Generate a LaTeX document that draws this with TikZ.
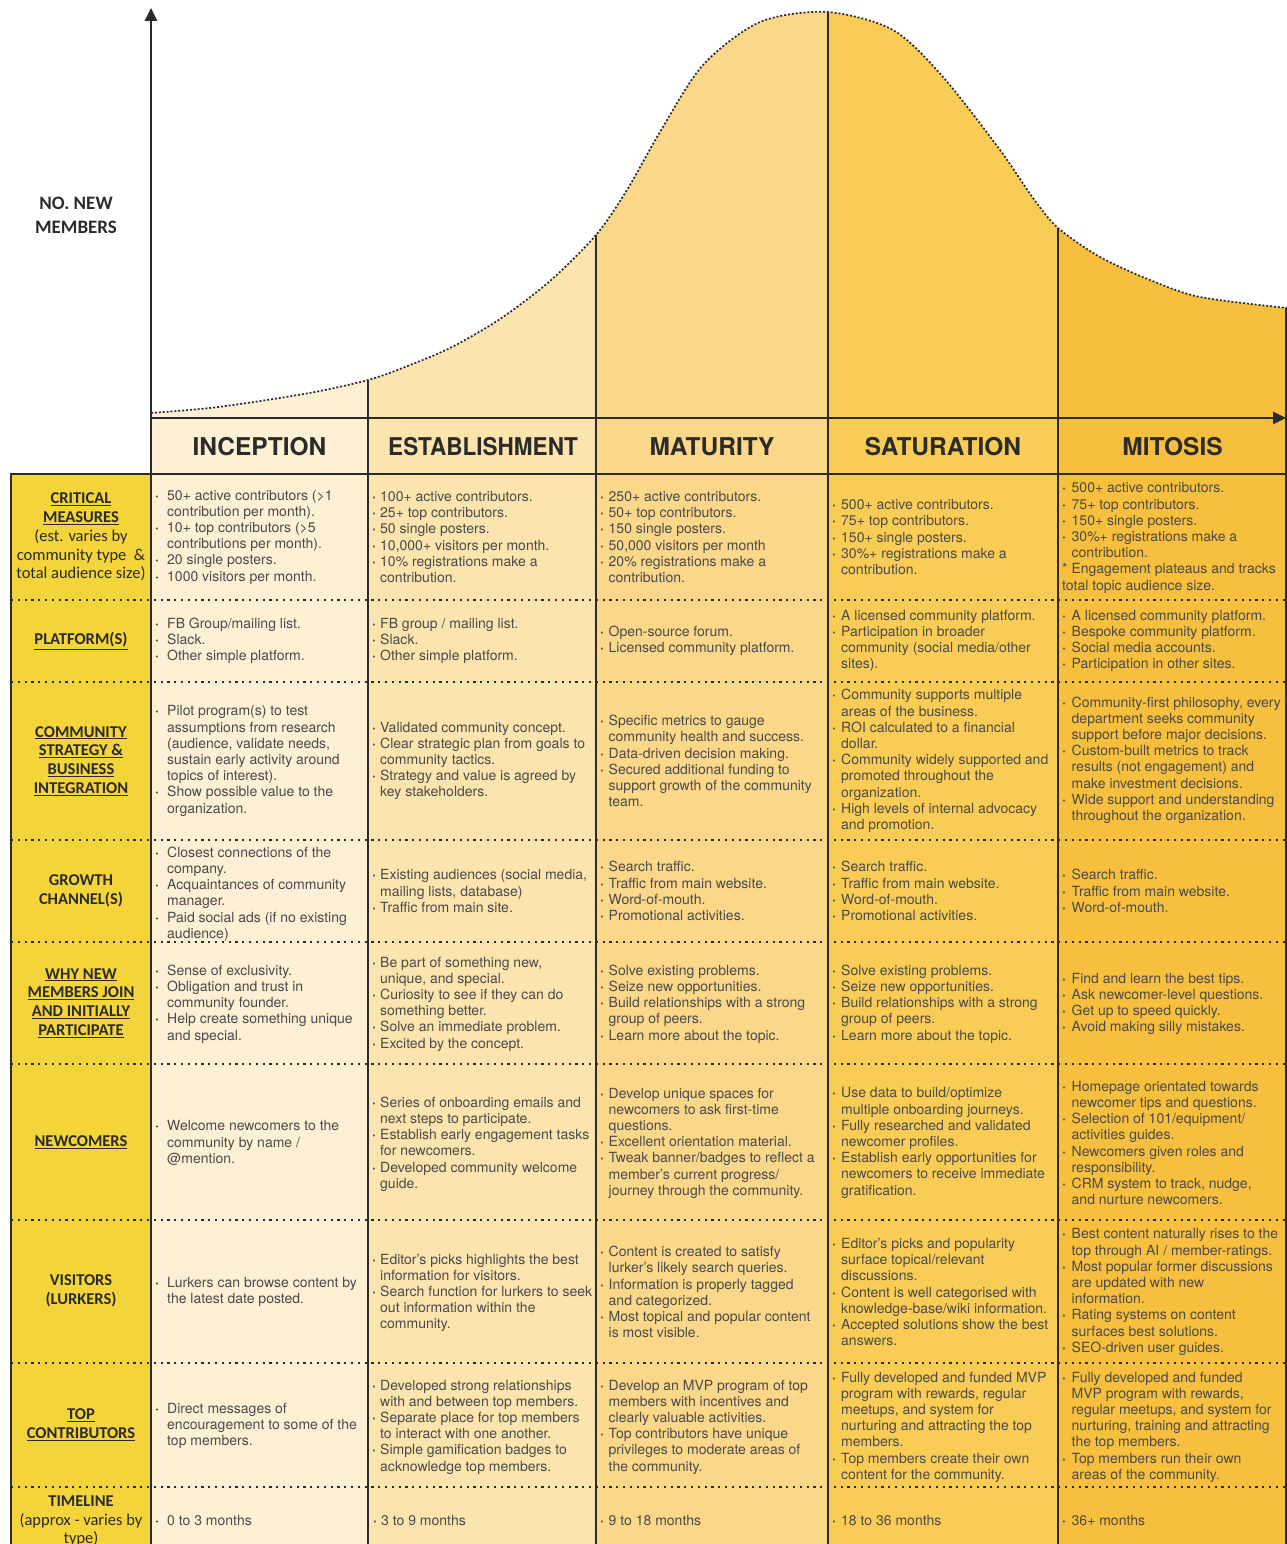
\documentclass[tikz,border=0pt]{standalone}
\usepackage{fontspec}
\setmainfont{TeX Gyre Heros}
\newfontfamily\carlito{Carlito}
\usetikzlibrary{arrows.meta}

\definecolor{cinc}{HTML}{FEF0D5}
\definecolor{cest}{HTML}{FCE4AE}
\definecolor{cmat}{HTML}{FAD789}
\definecolor{csat}{HTML}{F9CC55}
\definecolor{cmit}{HTML}{F6BF3E}
\definecolor{clab}{HTML}{F3D43B}
\definecolor{lnk}{HTML}{2B2B2B}
\definecolor{txt}{HTML}{4A4A4A}

\newlength{\bulw}
\newcommand{\bt}{\makebox[\bulw][l]{\textbf{·}}}
\newcommand{\hs}{\hspace*{\bulw}}
\newcommand{\lbu}[1]{\underline{\textbf{#1}}}

\tikzset{
  cell/.style={anchor=west, inner sep=0pt, align=left, text=txt,
    font=\fontsize{14}{16.2}\selectfont},
  incc/.style={cell, execute at begin node={\global\bulw=12pt}},
  estc/.style={cell, execute at begin node={\global\bulw=8pt}},
  matc/.style={cell, execute at begin node={\global\bulw=8.5pt}},
  satc/.style={cell, execute at begin node={\global\bulw=9pt}},
  mitc/.style={cell, execute at begin node={\global\bulw=9.5pt}},
  lab/.style={inner sep=0pt, align=center, text=lnk,
    font=\carlito\fontsize{16.5}{18.8}\selectfont},
  stage/.style={inner sep=0pt, text=lnk, font=\bfseries\fontsize{24.5}{28}\selectfont},
  axis/.style={lnk, line width=2.6pt, -{Triangle[length=13pt,width=12pt]}},
  rule/.style={lnk, line width=2.4pt},
  sep/.style={lnk, line width=1.8pt},
  dots/.style={lnk, line width=2.4pt, dash pattern=on 2.2pt off 4.6pt},
  curve/.style={lnk, line width=1.7pt, dash pattern=on 2pt off 1.9pt}
}

\begin{document}
\begin{tikzpicture}[x=1pt, y=-1pt]
\useasboundingbox (0,0) rectangle (1287,1544);
%
\coordinate (ytop) at (151,8);
\coordinate (ybot) at (151,1544);
\coordinate (origin) at (151,418);
\coordinate (xend) at (1286,418);
%
% stage columns
\fill[cinc] (151,0) rectangle (368,1544);
\fill[cest] (368,0) rectangle (596,1544);
\fill[cmat] (596,0) rectangle (828,1544);
\fill[csat] (828,0) rectangle (1058,1544);
\fill[cmit] (1058,0) rectangle (1287,1544);
\fill[clab] (11,474) rectangle (151,1544);
%
\draw[sep] (368,0) -- (368,1544);
\draw[sep] (596,0) -- (596,1544);
\draw[sep] (828,0) -- (828,1544);
\draw[sep] (1058,0) -- (1058,1544);
\draw[rule] (1285.8,300) -- (1285.8,1544);
%
% curve of new members
\fill[white] (151,0) -- (151,413) -- plot[smooth, tension=0.5] coordinates {(151,413) (210,408) (267,400) (320,391) (368,380) (400,369) (450,348) (500,319) (550,281) (596,235) (627,190) (660,132) (703,65) (760,22) (827,12) (893,30) (943,77) (1000,150) (1033,198) (1058,228) (1100,257) (1150,280) (1200,297) (1287,308)} -- (1288,308) -- (1288,0) -- cycle;
\draw[curve] plot[smooth, tension=0.5] coordinates {(151,413) (210,408) (267,400) (320,391) (368,380) (400,369) (450,348) (500,319) (550,281) (596,235) (627,190) (660,132) (703,65) (760,22) (827,12) (893,30) (943,77) (1000,150) (1033,198) (1058,228) (1100,257) (1150,280) (1200,297) (1287,308)};
%
% axes and frame
\draw[axis] (ybot) -- (ytop);
\draw[axis] (origin) -- (xend);
\draw[rule] (9.8,474) -- (1287,474);
\draw[rule] (11,473) -- (11,1544);
%
\draw[dots] (11,600) -- (1287,600);
\draw[dots] (11,682) -- (1287,682);
\draw[dots] (11,840) -- (1287,840);
\draw[dots] (11,942) -- (1287,942);
\draw[dots] (11,1064) -- (1287,1064);
\draw[dots] (11,1220) -- (1287,1220);
\draw[dots] (11,1363) -- (1287,1363);
\draw[dots] (11,1487) -- (1287,1487);
%
\node[lab, font=\carlito\bfseries\fontsize{19}{24}\selectfont] (ylab) at (76,215) {NO. NEW\\MEMBERS};
%
\node[stage] (inc) at (259.5,447) {INCEPTION};
\node[stage] (est) at (483,447) {\scalebox{0.92}[1]{ESTABLISHMENT}};
\node[stage] (mat) at (712,447) {MATURITY};
\node[stage] (sat) at (943,447) {SATURATION};
\node[stage] (mit) at (1172.5,447) {MITOSIS};
%
% row labels
\node[lab] (l-crit) at (81,537) {\lbu{CRITICAL}\\\lbu{MEASURES}\\(est. varies by\\community type \ \&\\total audience size)};
\node[lab] (l-plat) at (81,641) {\lbu{PLATFORM(S)}};
\node[lab] (l-strat) at (81,761) {\lbu{COMMUNITY}\\\lbu{STRATEGY \&}\\\lbu{BUSINESS}\\\lbu{INTEGRATION}};
\node[lab] (l-grow) at (81,891) {\textbf{GROWTH}\\\textbf{CHANNEL(S)}};
\node[lab] (l-why) at (81,1003) {\lbu{WHY NEW}\\\lbu{MEMBERS JOIN}\\\lbu{AND INITIALLY}\\\lbu{PARTICIPATE}};
\node[lab] (l-new) at (81,1142) {\lbu{NEWCOMERS}};
\node[lab] (l-vis) at (81,1291) {\textbf{VISITORS}\\\textbf{(LURKERS)}};
\node[lab] (l-top) at (81,1425) {\lbu{TOP}\\\lbu{CONTRIBUTORS}};
\node[lab] (l-time) at (81,1521) {\textbf{TIMELINE}\\(approx - varies by\\type)};
%
% critical measures
\node[incc] (inc-crit) at (155,537) {\bt 50+ active contributors (>1\\\hs contribution per month).\\\bt 10+ top contributors (>5\\\hs contributions per month).\\\bt 20 single posters.\\\bt 1000 visitors per month.};
\node[estc] (est-crit) at (372,537) {\bt 100+ active contributors.\\\bt 25+ top contributors.\\\bt 50 single posters.\\\bt 10,000+ visitors per month.\\\bt 10\% registrations make a\\\hs contribution.};
\node[matc] (mat-crit) at (600,537) {\bt 250+ active contributors.\\\bt 50+ top contributors.\\\bt 150 single posters.\\\bt 50,000 visitors per month\\\bt 20\% registrations make a\\\hs contribution.};
\node[satc] (sat-crit) at (832,537) {\bt 500+ active contributors.\\\bt 75+ top contributors.\\\bt 150+ single posters.\\\bt 30\%+ registrations make a\\\hs contribution.};
\node[mitc] (mit-crit) at (1062,538) {\bt 500+ active contributors.\\\bt 75+ top contributors.\\\bt 150+ single posters.\\\bt 30\%+ registrations make a\\\hs contribution.\\* Engagement plateaus and tracks\\total topic audience size.};
%
% platform
\node[incc] (inc-plat) at (155,641) {\bt FB Group/mailing list.\\\bt Slack.\\\bt Other simple platform.};
\node[estc] (est-plat) at (372,641) {\bt FB group / mailing list.\\\bt Slack.\\\bt Other simple platform.};
\node[matc] (mat-plat) at (600,641) {\bt Open-source forum.\\\bt Licensed community platform.};
\node[satc] (sat-plat) at (832,641) {\bt A licensed community platform.\\\bt Participation in broader\\\hs community (social media/other\\\hs sites).};
\node[mitc] (mit-plat) at (1062,641) {\bt A licensed community platform.\\\bt Bespoke community platform.\\\bt Social media accounts.\\\bt Participation in other sites.};
%
% strategy
\node[incc] (inc-strat) at (155,761) {\bt Pilot program(s) to test\\\hs assumptions from research\\\hs (audience, validate needs,\\\hs sustain early activity around\\\hs topics of interest).\\\bt Show possible value to the\\\hs organization.};
\node[estc] (est-strat) at (372,761) {\bt Validated community concept.\\\bt Clear strategic plan from goals to\\\hs community tactics.\\\bt Strategy and value is agreed by\\\hs key stakeholders.};
\node[matc] (mat-strat) at (600,761) {\bt Specific metrics to gauge\\\hs community health and success.\\\bt Data-driven decision making.\\\bt Secured additional funding to\\\hs support growth of the community\\\hs team.};
\node[satc] (sat-strat) at (832,761) {\bt Community supports multiple\\\hs areas of the business.\\\bt ROI calculated to a financial\\\hs dollar.\\\bt Community widely supported and\\\hs promoted throughout the\\\hs organization.\\\bt High levels of internal advocacy\\\hs and promotion.};
\node[mitc] (mit-strat) at (1062,760) {\bt Community-first philosophy, every\\\hs department seeks community\\\hs support before major decisions.\\\bt Custom-built metrics to track\\\hs results (not engagement) and\\\hs make investment decisions.\\\bt Wide support and understanding\\\hs throughout the organization.};
%
% growth channels
\node[incc] (inc-grow) at (155,894) {\bt Closest connections of the\\\hs company.\\\bt Acquaintances of community\\\hs manager.\\\bt Paid social ads (if no existing\\\hs audience)};
\node[estc] (est-grow) at (372,891) {\bt Existing audiences (social media,\\\hs mailing lists, database)\\\bt Traffic from main site.};
\node[matc] (mat-grow) at (600,891) {\bt Search traffic.\\\bt Traffic from main website.\\\bt Word-of-mouth.\\\bt Promotional activities.};
\node[satc] (sat-grow) at (832,891) {\bt Search traffic.\\\bt Traffic from main website.\\\bt Word-of-mouth.\\\bt Promotional activities.};
\node[mitc] (mit-grow) at (1062,891) {\bt Search traffic.\\\bt Traffic from main website.\\\bt Word-of-mouth.};
%
% why new members join
\node[incc] (inc-why) at (155,1004) {\bt Sense of exclusivity.\\\bt Obligation and trust in\\\hs community founder.\\\bt Help create something unique\\\hs and special.};
\node[estc] (est-why) at (372,1004) {\bt Be part of something new,\\\hs unique, and special.\\\bt Curiosity to see if they can do\\\hs something better.\\\bt Solve an immediate problem.\\\bt Excited by the concept.};
\node[matc] (mat-why) at (600,1004) {\bt Solve existing problems.\\\bt Seize new opportunities.\\\bt Build relationships with a strong\\\hs group of peers.\\\bt Learn more about the topic.};
\node[satc] (sat-why) at (832,1004) {\bt Solve existing problems.\\\bt Seize new opportunities.\\\bt Build relationships with a strong\\\hs group of peers.\\\bt Learn more about the topic.};
\node[mitc] (mit-why) at (1062,1004) {\bt Find and learn the best tips.\\\bt Ask newcomer-level questions.\\\bt Get up to speed quickly.\\\bt Avoid making silly mistakes.};
%
% newcomers
\node[incc] (inc-new) at (155,1143) {\bt Welcome newcomers to the\\\hs community by name /\\\hs @mention.};
\node[estc] (est-new) at (372,1144) {\bt Series of onboarding emails and\\\hs next steps to participate.\\\bt Establish early engagement tasks\\\hs for newcomers.\\\bt Developed community welcome\\\hs guide.};
\node[matc] (mat-new) at (600,1143) {\bt Develop unique spaces for\\\hs newcomers to ask first-time\\\hs questions.\\\bt Excellent orientation material.\\\bt Tweak banner/badges to reflect a\\\hs member’s current progress/\\\hs journey through the community.};
\node[satc] (sat-new) at (832,1143) {\bt Use data to build/optimize\\\hs multiple onboarding journeys.\\\bt Fully researched and validated\\\hs newcomer profiles.\\\bt Establish early opportunities for\\\hs newcomers to receive immediate\\\hs gratification.};
\node[mitc] (mit-new) at (1062,1143) {\bt Homepage orientated towards\\\hs newcomer tips and questions.\\\bt Selection of 101/equipment/\\\hs activities guides.\\\bt Newcomers given roles and\\\hs responsibility.\\\bt CRM system to track, nudge,\\\hs and nurture newcomers.};
%
% visitors
\node[incc] (inc-vis) at (155,1292) {\bt Lurkers can browse content by\\\hs the latest date posted.};
\node[estc] (est-vis) at (372,1293) {\bt Editor’s picks highlights the best\\\hs information for visitors.\\\bt Search function for lurkers to seek\\\hs out information within the\\\hs community.};
\node[matc] (mat-vis) at (600,1292) {\bt Content is created to satisfy\\\hs lurker’s likely search queries.\\\bt Information is properly tagged\\\hs and categorized.\\\bt Most topical and popular content\\\hs is most visible.};
\node[satc] (sat-vis) at (832,1292) {\bt Editor’s picks and popularity\\\hs surface topical/relevant\\\hs discussions.\\\bt Content is well categorised with\\\hs knowledge-base/wiki information.\\\bt Accepted solutions show the best\\\hs answers.};
\node[mitc] (mit-vis) at (1062,1292) {\bt Best content naturally rises to the\\\hs top through AI / member-ratings.\\\bt Most popular former discussions\\\hs are updated with new\\\hs information.\\\bt Rating systems on content\\\hs surfaces best solutions.\\\bt SEO-driven user guides.};
%
% top contributors
\node[incc] (inc-top) at (155,1426) {\bt Direct messages of\\\hs encouragement to some of the\\\hs top members.};
\node[estc] (est-top) at (372,1427) {\bt Developed strong relationships\\\hs with and between top members.\\\bt Separate place for top members\\\hs to interact with one another.\\\bt Simple gamification badges to\\\hs acknowledge top members.};
\node[matc] (mat-top) at (600,1427) {\bt Develop an MVP program of top\\\hs members with incentives and\\\hs clearly valuable activities.\\\bt Top contributors have unique\\\hs privileges to moderate areas of\\\hs the community.};
\node[satc] (sat-top) at (832,1427) {\bt Fully developed and funded MVP\\\hs program with rewards, regular\\\hs meetups, and system for\\\hs nurturing and attracting the top\\\hs members.\\\bt Top members create their own\\\hs content for the community.};
\node[mitc] (mit-top) at (1062,1427) {\bt Fully developed and funded\\\hs MVP program with rewards,\\\hs regular meetups, and system for\\\hs nurturing, training and attracting\\\hs the top members.\\\bt Top members run their own\\\hs areas of the community.};
%
% timeline
\node[incc] (inc-time) at (155,1520) {\bt 0 to 3 months};
\node[estc] (est-time) at (373,1520) {\bt 3 to 9 months};
\node[matc] (mat-time) at (600,1520) {\bt 9 to 18 months};
\node[satc] (sat-time) at (832,1520) {\bt 18 to 36 months};
\node[mitc] (mit-time) at (1062,1520) {\bt 36+ months};
%
\end{tikzpicture}
\end{document}
